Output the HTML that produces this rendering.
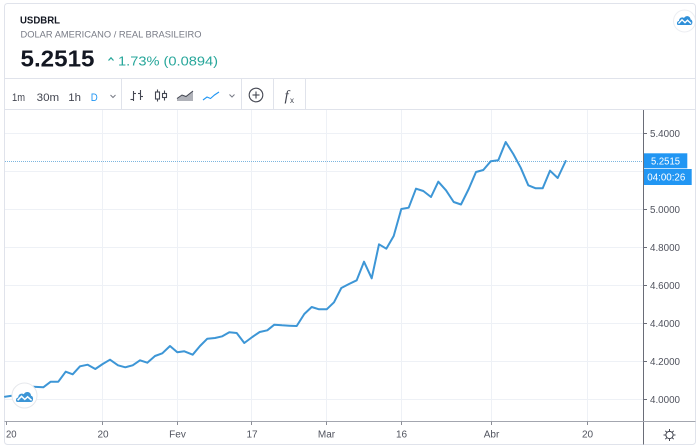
<!DOCTYPE html>
<html>
<head>
<meta charset="utf-8">
<style>
  html,body{margin:0;padding:0;background:#ffffff;}
  body{width:700px;height:448px;overflow:hidden;}
  svg{display:block;}
  text{font-family:"Liberation Sans",Arial,sans-serif;}
</style>
</head>
<body>
<svg width="700" height="448" viewBox="0 0 700 448" xmlns="http://www.w3.org/2000/svg">
  <rect x="0" y="0" width="700" height="448" fill="#ffffff"/>
  <!-- widget border -->
  <rect x="4.5" y="3.5" width="691" height="441" rx="3" ry="3" fill="#ffffff" stroke="#e0e3eb" stroke-width="1"/>

  <!-- header -->
  <text x="20" y="23.3" font-size="10.5" font-weight="bold" fill="#131722" textLength="40" lengthAdjust="spacingAndGlyphs">USDBRL</text>
  <text x="20.5" y="37.3" font-size="9.5" fill="#787b86" textLength="181" lengthAdjust="spacingAndGlyphs">DOLAR AMERICANO / REAL BRASILEIRO</text>
  <text x="20.5" y="66.7" font-size="23" font-weight="bold" fill="#131722" textLength="74" lengthAdjust="spacingAndGlyphs">5.2515</text>
  <polyline points="108.5,60.5 111,57.8 113.5,60.5" fill="none" stroke="#26a69a" stroke-width="1.2"/>
  <text x="118" y="65.3" font-size="13" fill="#26a69a" textLength="100" lengthAdjust="spacingAndGlyphs">1.73% (0.0894)</text>

  <!-- top-right logo -->
  <circle cx="684.5" cy="21" r="11" fill="#ffffff" stroke="#eceef2" stroke-width="1"/>
  <g transform="translate(677,15)">
    <path d="M1,10 C-0.5,10 -0.5,6 2,6 C2,3 5,1.5 7,3 C8.5,0 13.5,0.5 13.5,4.5 C16,4.5 16,10 13.5,10 Z" fill="#2e8fd8"/>
    <polyline points="1.5,8.5 5,4.8 8,7.6 10.5,5.2 14,8.5" fill="none" stroke="#ffffff" stroke-width="1.4"/>
  </g>
  <line x1="695.5" y1="10" x2="695.5" y2="32" stroke="#e0e3eb" stroke-width="1"/>

  <!-- toolbar -->
  <line x1="4.5" y1="78.5" x2="695.5" y2="78.5" stroke="#e0e3eb" stroke-width="1"/>
  <line x1="4.5" y1="109.5" x2="695.5" y2="109.5" stroke="#e0e3eb" stroke-width="1"/>
  <line x1="121.5" y1="78.5" x2="121.5" y2="109.5" stroke="#e0e3eb"/>
  <line x1="241.5" y1="78.5" x2="241.5" y2="109.5" stroke="#e0e3eb"/>
  <line x1="273.5" y1="78.5" x2="273.5" y2="109.5" stroke="#e0e3eb"/>
  <line x1="305.5" y1="78.5" x2="305.5" y2="109.5" stroke="#e0e3eb"/>

  <text x="12" y="101" font-size="11" fill="#434651" textLength="13" lengthAdjust="spacingAndGlyphs">1m</text>
  <text x="36.7" y="101" font-size="11" fill="#434651" textLength="22.5" lengthAdjust="spacingAndGlyphs">30m</text>
  <text x="68.3" y="101" font-size="11" fill="#434651" textLength="12.7" lengthAdjust="spacingAndGlyphs">1h</text>
  <text x="90.7" y="101" font-size="11" fill="#2196f3" textLength="7" lengthAdjust="spacingAndGlyphs">D</text>
  <polyline points="110.5,95 113,97.5 115.5,95" fill="none" stroke="#787b86" stroke-width="1"/>

  <!-- bars icon -->
  <g stroke="#434651" stroke-width="1.1" fill="none">
    <line x1="133.5" y1="91" x2="133.5" y2="101"/>
    <line x1="130.5" y1="99.5" x2="133.5" y2="99.5"/>
    <line x1="133.5" y1="93.5" x2="136" y2="93.5"/>
    <line x1="140.5" y1="90" x2="140.5" y2="100"/>
    <line x1="138" y1="93.5" x2="140.5" y2="93.5"/>
    <line x1="140.5" y1="96.5" x2="143" y2="96.5"/>
  </g>
  <!-- candles icon -->
  <g stroke="#434651" stroke-width="1.1" fill="none">
    <line x1="157.5" y1="89.5" x2="157.5" y2="101.5"/>
    <rect x="155.5" y="92" width="4" height="7" fill="#ffffff"/>
    <line x1="164.5" y1="90.5" x2="164.5" y2="100.5"/>
    <rect x="162.5" y="93.5" width="4" height="4" fill="#ffffff"/>
  </g>
  <!-- area icon -->
  <polygon points="177,101 177,98.5 182,95 186,96.5 193,91 193,101" fill="#9598a1" opacity="0.75"/>
  <polyline points="177,98.5 182,95 186,96.5 193,91" fill="none" stroke="#434651" stroke-width="1"/>
  <!-- line icon -->
  <polyline points="203,100 207,97 210.5,98.5 214.5,95 219,92" fill="none" stroke="#2196f3" stroke-width="1.1"/>
  <polyline points="229.5,94.5 232,97 234.5,94.5" fill="none" stroke="#787b86" stroke-width="1"/>
  <!-- plus circle -->
  <circle cx="256" cy="95" r="6.8" fill="none" stroke="#434651" stroke-width="1.1"/>
  <line x1="252.5" y1="95" x2="259.5" y2="95" stroke="#434651" stroke-width="1.1"/>
  <line x1="256" y1="91.5" x2="256" y2="98.5" stroke="#434651" stroke-width="1.1"/>
  <!-- fx -->
  <text x="284.5" y="100.5" font-size="15" font-style="italic" fill="#434651" style="font-family:'Liberation Serif',serif">f</text>
  <text x="290" y="103" font-size="8" fill="#434651">x</text>

  <!-- gridlines -->
  <g stroke="#eef1f6" stroke-width="1">
    <line x1="5" y1="133.5" x2="643" y2="133.5"/>
    <line x1="5" y1="171.5" x2="643" y2="171.5"/>
    <line x1="5" y1="209.5" x2="643" y2="209.5"/>
    <line x1="5" y1="247.5" x2="643" y2="247.5"/>
    <line x1="5" y1="285.5" x2="643" y2="285.5"/>
    <line x1="5" y1="323.5" x2="643" y2="323.5"/>
    <line x1="5" y1="361.5" x2="643" y2="361.5"/>
    <line x1="5" y1="399.5" x2="643" y2="399.5"/>
    <line x1="102.5" y1="110" x2="102.5" y2="421"/>
    <line x1="177.5" y1="110" x2="177.5" y2="421"/>
    <line x1="251.5" y1="110" x2="251.5" y2="421"/>
    <line x1="326.5" y1="110" x2="326.5" y2="421"/>
    <line x1="401.5" y1="110" x2="401.5" y2="421"/>
    <line x1="491.5" y1="110" x2="491.5" y2="421"/>
    <line x1="587.5" y1="110" x2="587.5" y2="421"/>
  </g>

  <!-- last price dotted line -->
  <line x1="5" y1="161.5" x2="643" y2="161.5" stroke="#7db6df" stroke-width="1" stroke-dasharray="1,1"/>

  <!-- series -->
  <polyline fill="none" stroke="#3d96d6" stroke-width="2" stroke-linejoin="round" stroke-linecap="round" points="
    5,396.7 11.7,395.7 18.5,392 26,389 33.3,386.7 43.3,387.3 50.7,381.7 58.3,381.7 65.7,371.7 72.7,374.3
    80,366.3 87.7,364.7 95.3,369 102.7,364 110,359.7 118,365.3 125.3,367.3 132.7,365.3 140,360.3 147.3,362.7
    155,356 162.3,353.3 170,346 177.3,352.3 184.3,351.3 192.7,354.7 200,346 207.3,338.7 215,338 222.3,336.3
    229.3,332.3 236.7,333 244.3,343 252.3,337 259.7,332 267.3,330.3 274.3,324.7 282,325.3 289.3,325.7 296.7,326
    304.3,314 311.7,307 319,309.3 326.7,309.3 334,302.3 341.3,288 349,284 356.7,280.3 364,261.7 371.7,278.3
    379,244.3 386.3,248.7 393.7,236 401.3,209 408.7,207.7 416,188.7 423.3,191 431,197 438.3,181.7 446,190.3
    453.7,202 461,204.5 468.7,189 476,172 483.3,170 490.7,161.3 498.3,160.3 505.7,142 513.3,154 520.7,167.7
    528.3,185.3 535.7,188.3 542.7,188.3 550,170.7 557.7,178 565.7,161"/>

  <!-- bottom-left logo -->
  <circle cx="24.5" cy="395.5" r="12.5" fill="#ffffff" stroke="#e6e8ec" stroke-width="1"/>
  <g transform="translate(16,391)">
    <path d="M1.2,11 C-0.6,11 -0.6,6.5 2.2,6.5 C2.2,3.2 5.5,1.6 7.8,3.2 C9.5,-0.2 15,0.4 15,4.8 C17.8,4.8 17.8,11 15,11 Z" fill="#3d96d6"/>
    <polyline points="1.6,9.3 5.5,5.3 8.8,8.4 11.6,5.8 15.6,9.3" fill="none" stroke="#ffffff" stroke-width="1.5"/>
  </g>

  <!-- price axis -->
  <line x1="643.5" y1="110" x2="643.5" y2="444.5" stroke="#6a6d78" stroke-width="1"/>
  <g stroke="#6a6d78" stroke-width="1">
    <line x1="643.5" y1="133.5" x2="647" y2="133.5"/>
    <line x1="643.5" y1="209.5" x2="647" y2="209.5"/>
    <line x1="643.5" y1="247.5" x2="647" y2="247.5"/>
    <line x1="643.5" y1="285.5" x2="647" y2="285.5"/>
    <line x1="643.5" y1="323.5" x2="647" y2="323.5"/>
    <line x1="643.5" y1="361.5" x2="647" y2="361.5"/>
    <line x1="643.5" y1="399.5" x2="647" y2="399.5"/>
  </g>
  <g font-size="10" fill="#50535e">
    <text x="650" y="137" textLength="30" lengthAdjust="spacingAndGlyphs">5.4000</text>
    <text x="650" y="213" textLength="30" lengthAdjust="spacingAndGlyphs">5.0000</text>
    <text x="650" y="251" textLength="30" lengthAdjust="spacingAndGlyphs">4.8000</text>
    <text x="650" y="289" textLength="30" lengthAdjust="spacingAndGlyphs">4.6000</text>
    <text x="650" y="327" textLength="30" lengthAdjust="spacingAndGlyphs">4.4000</text>
    <text x="650" y="365" textLength="30" lengthAdjust="spacingAndGlyphs">4.2000</text>
    <text x="650" y="403" textLength="30" lengthAdjust="spacingAndGlyphs">4.0000</text>
  </g>
  <rect x="644" y="153.3" width="43.3" height="15" fill="#2196f3"/>
  <text x="651" y="164.5" font-size="10" fill="#ffffff" textLength="29" lengthAdjust="spacingAndGlyphs">5.2515</text>
  <rect x="644" y="169" width="47.7" height="16" fill="#2196f3"/>
  <text x="647.3" y="180.7" font-size="10" fill="#ffffff" textLength="38" lengthAdjust="spacingAndGlyphs">04:00:26</text>

  <!-- time axis -->
  <line x1="4.5" y1="421.5" x2="695.5" y2="421.5" stroke="#a3a6af" stroke-width="1"/>
  <g stroke="#8a8d96" stroke-width="1">
    <line x1="6.5" y1="421.5" x2="6.5" y2="425"/>
    <line x1="102.5" y1="421.5" x2="102.5" y2="425"/>
    <line x1="177.5" y1="421.5" x2="177.5" y2="425"/>
    <line x1="251.5" y1="421.5" x2="251.5" y2="425"/>
    <line x1="326.5" y1="421.5" x2="326.5" y2="425"/>
    <line x1="401.5" y1="421.5" x2="401.5" y2="425"/>
    <line x1="491.5" y1="421.5" x2="491.5" y2="425"/>
    <line x1="587.5" y1="421.5" x2="587.5" y2="425"/>
  </g>
  <g font-size="10" fill="#50535e">
    <text x="6" y="437.5" textLength="10.6" lengthAdjust="spacingAndGlyphs">20</text>
    <text x="103" y="437.5" text-anchor="middle">20</text>
    <text x="177.5" y="437.5" text-anchor="middle">Fev</text>
    <text x="252" y="437.5" text-anchor="middle">17</text>
    <text x="326.5" y="437.5" text-anchor="middle">Mar</text>
    <text x="401.5" y="437.5" text-anchor="middle">16</text>
    <text x="491.5" y="437.5" text-anchor="middle">Abr</text>
    <text x="587.5" y="437.5" text-anchor="middle">20</text>
  </g>

  <!-- gear -->
  <g transform="translate(669.5,435)" stroke="#434651" stroke-width="1" fill="none">
    <circle cx="0" cy="0" r="3.6"/>
    <line x1="0" y1="-6" x2="0" y2="-3.6"/>
    <line x1="0" y1="3.6" x2="0" y2="6"/>
    <line x1="-6" y1="0" x2="-3.6" y2="0"/>
    <line x1="3.6" y1="0" x2="6" y2="0"/>
    <line x1="-4.2" y1="-4.2" x2="-2.6" y2="-2.6"/>
    <line x1="2.6" y1="2.6" x2="4.2" y2="4.2"/>
    <line x1="-4.2" y1="4.2" x2="-2.6" y2="2.6"/>
    <line x1="2.6" y1="-2.6" x2="4.2" y2="-4.2"/>
  </g>
</svg>
</body>
</html>
